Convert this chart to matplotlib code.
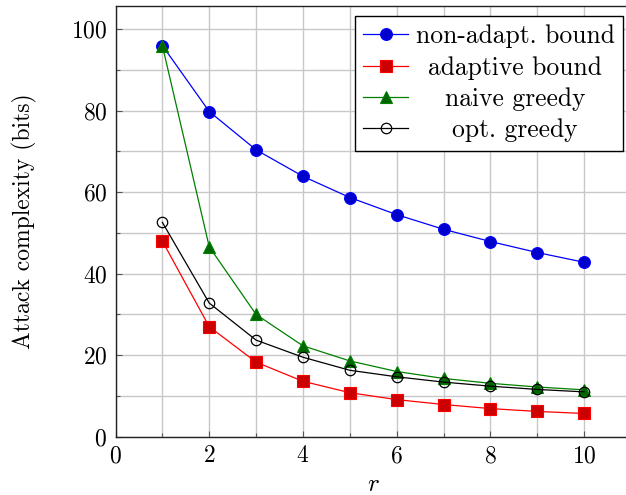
import numpy as np
import matplotlib
matplotlib.use("Agg")
import matplotlib.pyplot as plt
from matplotlib.ticker import MultipleLocator

plt.rcParams['font.family'] = 'cmr10'
plt.rcParams['mathtext.fontset'] = 'cm'
plt.rcParams['axes.formatter.use_mathtext'] = True

# data
r = [1, 2, 3, 4, 5, 6, 7, 8, 9, 10]
non_adapt = [96.0, 79.8, 70.4, 63.9, 58.7, 54.5, 50.9, 47.9, 45.2, 42.8]
adaptive = [48.0, 27.0, 18.3, 13.6, 10.8, 9.1, 7.9, 6.9, 6.2, 5.7]
naive_greedy = [96.0, 46.6, 30.0, 22.3, 18.6, 16.0, 14.3, 13.1, 12.2, 11.5]
opt_greedy = [52.6, 32.8, 23.7, 19.5, 16.3, 14.7, 13.4, 12.4, 11.6, 11.0]

fs = 17

fig = plt.figure(figsize=(6.26, 4.95), dpi=100)
ax = fig.add_axes([115.5 / 626, 1 - 436.7 / 495, (631 - 115.5) / 626, (436.7 - 6) / 495])

ax.plot(r, non_adapt, color='blue', lw=0.9, marker='o', ms=8.5,
        mfc=(0, 0, 0.8), mec='blue', mew=0.8, label='non-adapt. bound', zorder=3)
ax.plot(r, adaptive, color='red', lw=0.9, marker='s', ms=8,
        mfc=(0.8, 0, 0), mec='red', mew=0.8, label='adaptive bound', zorder=3)
ax.plot(r, naive_greedy, color=(0, 0.5, 0), lw=0.9, marker='^', ms=8.5,
        mfc=(0, 0.4, 0), mec=(0, 0.5, 0), mew=0.8, label='naive greedy', zorder=3)
ax.plot(r, opt_greedy, color='black', lw=0.9, marker='o', ms=7.5,
        mfc='none', mec='black', mew=0.9, label='opt. greedy', zorder=3)

ax.set_xlim(0, 11)
ax.set_ylim(0, 105.7)
ax.xaxis.set_major_locator(MultipleLocator(2))
ax.xaxis.set_minor_locator(MultipleLocator(1))
ax.yaxis.set_major_locator(MultipleLocator(20))
ax.yaxis.set_minor_locator(MultipleLocator(10))
ax.grid(True, which='both', color='#c8c8c8', lw=1.0, zorder=0)
ax.set_axisbelow(True)
ax.tick_params(which='both', direction='in', color='#555555', labelsize=fs, pad=6)
ax.tick_params(which='major', length=4, width=0.8)
ax.tick_params(which='minor', length=3, width=0.8)
for s in ax.spines.values():
    s.set_linewidth(1.0)
    s.set_color('#222222')

ax.set_xlabel('$r$', fontsize=fs + 1, labelpad=5)
ax.set_ylabel('Attack complexity (bits)', fontsize=fs, labelpad=24)

leg = ax.legend(loc='upper right', bbox_to_anchor=(623 / 626, 1 - 16 / 495),
                bbox_transform=fig.transFigure, fontsize=18.4, frameon=True,
                fancybox=False, framealpha=1, edgecolor='black',
                handlelength=1.75, handletextpad=0.3, labelspacing=0.3,
                borderpad=0.33, borderaxespad=0)
leg.get_frame().set_linewidth(1.0)

# center the legend texts like pgfplots does
fig.canvas.draw()
texts = leg.get_texts()
widths = [t.get_window_extent().width for t in texts]
wmax = max(widths)
for t, w in zip(texts, widths):
    t.set_x((wmax - w) / 2)

fig.savefig('out.png', dpi=100)
